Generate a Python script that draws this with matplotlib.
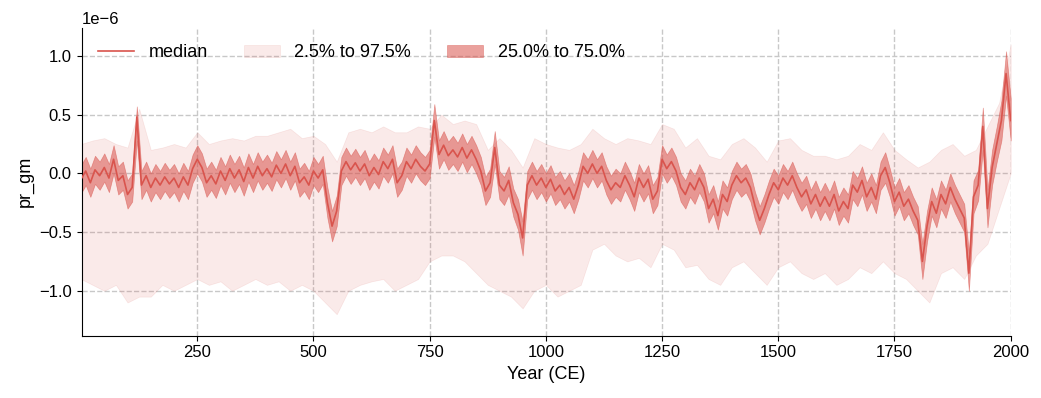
import numpy as np
import matplotlib.pyplot as plt

plt.rcParams['font.family'] = ['Liberation Sans', 'DejaVu Sans']

# Jahre (10-Jahres-Schritte) fuer Median und Quartile, Werte in 1e-6
years = np.arange(0, 2001, 10)

median = [
    -0.05, 0.02, -0.08, 0.03, -0.02, 0.05, -0.04, 0.12, -0.06, -0.02,
    -0.18, -0.12, 0.48, -0.10, -0.02, -0.12, -0.04, -0.10, -0.03, -0.09,
    -0.04, -0.12, -0.03, -0.10, 0.04, 0.12, 0.05, -0.08, -0.02, -0.09,
    0.02, -0.06, 0.04, -0.04, 0.03, -0.07, 0.05, -0.04, 0.06, -0.02,
    0.04, -0.03, 0.07, 0.00, 0.08, -0.02, 0.06, -0.08, -0.03, -0.10,
    0.02, -0.04, 0.03, -0.25, -0.45, -0.32, 0.02, 0.10, 0.03, 0.09,
    0.02, 0.08, -0.02, 0.05, -0.01, 0.10, 0.04, 0.12, -0.08, -0.02,
    0.10, 0.04, 0.12, 0.06, 0.02, 0.08, 0.45, 0.16, 0.24, 0.15,
    0.20, 0.14, 0.22, 0.13, 0.20, 0.12, 0.02, -0.15, -0.08, 0.22,
    -0.10, -0.15, -0.06, -0.25, -0.35, -0.55, -0.10, -0.02, -0.10, -0.04,
    -0.12, -0.05, -0.15, -0.10, -0.18, -0.12, -0.22, -0.10, 0.06, 0.00,
    0.08, 0.00, 0.06, -0.06, -0.14, -0.08, -0.12, -0.02, -0.10, -0.20,
    -0.04, -0.12, -0.05, -0.22, -0.15, 0.12, 0.04, 0.10, 0.02, -0.12,
    -0.18, -0.08, -0.14, -0.04, -0.12, -0.30, -0.22, -0.36, -0.18, -0.24,
    -0.10, -0.02, -0.08, -0.04, -0.12, -0.28, -0.40, -0.30, -0.18, -0.08,
    -0.14, -0.04, -0.10, -0.02, -0.12, -0.20, -0.14, -0.26, -0.18, -0.28,
    -0.20, -0.28, -0.18, -0.32, -0.24, -0.30, -0.10, -0.16, -0.06, -0.20,
    -0.12, -0.22, -0.02, 0.05, -0.08, -0.24, -0.16, -0.28, -0.22, -0.32,
    -0.40, -0.75, -0.45, -0.24, -0.34, -0.18, -0.26, -0.12, -0.22, -0.30,
    -0.38, -0.85, -0.20, -0.10, 0.40, -0.30, 0.05, 0.25, 0.45, 0.85,
    0.45,
]

q75 = [
    0.07, 0.14, 0.04, 0.15, 0.10, 0.17, 0.08, 0.24, 0.06, 0.10,
    -0.06, 0.00, 0.57, 0.02, 0.10, 0.00, 0.08, 0.02, 0.09, 0.03,
    0.08, 0.00, 0.09, 0.02, 0.16, 0.24, 0.17, 0.04, 0.10, 0.03,
    0.14, 0.06, 0.16, 0.08, 0.15, 0.05, 0.17, 0.08, 0.18, 0.10,
    0.16, 0.09, 0.19, 0.12, 0.20, 0.10, 0.18, 0.04, 0.09, 0.02,
    0.14, 0.08, 0.15, -0.12, -0.32, -0.19, 0.14, 0.22, 0.15, 0.21,
    0.14, 0.20, 0.10, 0.17, 0.11, 0.22, 0.16, 0.24, 0.04, 0.10,
    0.22, 0.16, 0.24, 0.18, 0.14, 0.20, 0.59, 0.28, 0.36, 0.27,
    0.32, 0.26, 0.34, 0.25, 0.32, 0.24, 0.14, -0.03, 0.04, 0.36,
    0.02, -0.03, 0.06, -0.13, -0.22, -0.41, 0.02, 0.10, 0.02, 0.08,
    0.00, 0.07, -0.03, 0.02, -0.06, 0.00, -0.10, 0.02, 0.18, 0.12,
    0.20, 0.12, 0.18, 0.06, -0.02, 0.04, 0.00, 0.10, 0.02, -0.08,
    0.08, 0.00, 0.07, -0.10, -0.03, 0.24, 0.16, 0.22, 0.14, 0.00,
    -0.06, 0.04, -0.02, 0.08, 0.00, -0.18, -0.10, -0.24, -0.06, -0.12,
    0.02, 0.10, 0.04, 0.08, 0.00, -0.16, -0.28, -0.18, -0.06, 0.04,
    -0.02, 0.08, 0.02, 0.10, 0.00, -0.08, -0.02, -0.14, -0.06, -0.16,
    -0.08, -0.16, -0.06, -0.20, -0.12, -0.18, 0.02, -0.04, 0.06, -0.08,
    0.00, -0.10, 0.10, 0.18, 0.04, -0.12, -0.04, -0.16, -0.10, -0.20,
    -0.28, -0.60, -0.32, -0.12, -0.22, -0.06, -0.14, 0.00, -0.10, -0.18,
    -0.26, -0.68, -0.06, 0.03, 0.56, -0.14, 0.20, 0.40, 0.62, 1.04,
    0.64,
]

q25 = [
    -0.17, -0.10, -0.20, -0.09, -0.14, -0.07, -0.16, 0.00, -0.18, -0.14,
    -0.30, -0.24, 0.28, -0.22, -0.14, -0.24, -0.16, -0.22, -0.15, -0.21,
    -0.16, -0.24, -0.15, -0.22, -0.08, 0.00, -0.07, -0.20, -0.14, -0.21,
    -0.10, -0.18, -0.08, -0.16, -0.09, -0.19, -0.07, -0.16, -0.06, -0.14,
    -0.08, -0.15, -0.05, -0.12, -0.04, -0.14, -0.06, -0.20, -0.15, -0.22,
    -0.10, -0.16, -0.09, -0.38, -0.58, -0.45, -0.10, -0.02, -0.09, -0.03,
    -0.10, -0.04, -0.14, -0.07, -0.13, -0.02, -0.08, 0.00, -0.20, -0.14,
    -0.02, -0.08, 0.00, -0.06, -0.10, -0.04, 0.31, 0.04, 0.12, 0.03,
    0.08, 0.02, 0.10, 0.01, 0.08, 0.00, -0.10, -0.27, -0.20, 0.08,
    -0.22, -0.27, -0.18, -0.37, -0.48, -0.70, -0.22, -0.14, -0.22, -0.16,
    -0.24, -0.17, -0.27, -0.22, -0.30, -0.24, -0.34, -0.22, -0.06, -0.12,
    -0.04, -0.12, -0.06, -0.18, -0.26, -0.20, -0.24, -0.14, -0.22, -0.32,
    -0.16, -0.24, -0.17, -0.34, -0.27, 0.00, -0.08, -0.02, -0.10, -0.24,
    -0.30, -0.20, -0.26, -0.16, -0.24, -0.42, -0.34, -0.48, -0.30, -0.36,
    -0.22, -0.14, -0.20, -0.16, -0.24, -0.40, -0.52, -0.42, -0.30, -0.20,
    -0.26, -0.16, -0.22, -0.14, -0.24, -0.32, -0.26, -0.38, -0.30, -0.40,
    -0.32, -0.40, -0.30, -0.44, -0.36, -0.42, -0.22, -0.28, -0.18, -0.32,
    -0.24, -0.34, -0.14, -0.08, -0.20, -0.36, -0.28, -0.40, -0.34, -0.44,
    -0.52, -0.90, -0.58, -0.36, -0.46, -0.30, -0.38, -0.24, -0.34, -0.42,
    -0.50, -1.00, -0.34, -0.23, 0.20, -0.46, -0.10, 0.10, 0.28, 0.66,
    0.28,
]

# 2.5 % und 97.5 % Grenzen (25-Jahres-Schritte)
years_outer = np.arange(0, 2001, 25)

q975 = [
    0.25, 0.28, 0.30, 0.25, 0.22, 0.55, 0.20, 0.22, 0.25, 0.22,
    0.35, 0.25, 0.28, 0.30, 0.28, 0.32, 0.32, 0.35, 0.38, 0.30,
    0.32, 0.25, 0.10, 0.35, 0.38, 0.35, 0.40, 0.35, 0.35, 0.40,
    0.38, 0.50, 0.42, 0.45, 0.42, 0.20, 0.30, 0.20, 0.05, 0.30,
    0.25, 0.22, 0.20, 0.25, 0.38, 0.30, 0.25, 0.30, 0.28, 0.25,
    0.42, 0.38, 0.22, 0.30, 0.15, 0.12, 0.25, 0.30, 0.22, 0.10,
    0.28, 0.30, 0.20, 0.15, 0.15, 0.12, 0.15, 0.25, 0.20, 0.35,
    0.20, 0.12, 0.05, 0.10, 0.20, 0.25, 0.15, 0.20, 0.40, 0.60,
    1.10,
]

q025 = [
    -0.90, -0.95, -1.00, -0.95, -1.10, -1.05, -1.05, -0.95, -1.00, -0.95,
    -0.90, -0.95, -0.92, -1.00, -0.95, -0.90, -0.95, -0.92, -1.00, -0.95,
    -1.00, -1.10, -1.20, -1.00, -0.95, -0.92, -0.90, -1.00, -0.95, -0.90,
    -0.75, -0.70, -0.70, -0.75, -0.85, -0.95, -1.00, -1.05, -1.15, -1.00,
    -0.95, -1.05, -1.00, -0.95, -0.65, -0.60, -0.70, -0.75, -0.72, -0.80,
    -0.60, -0.65, -0.80, -0.78, -0.90, -0.95, -0.80, -0.75, -0.85, -0.95,
    -0.80, -0.75, -0.85, -0.90, -0.85, -0.95, -0.90, -0.80, -0.85, -0.75,
    -0.85, -0.90, -1.00, -1.10, -0.85, -0.80, -0.90, -0.70, -0.60, -0.30,
    0.00,
]

clr = '#d9544d'
scale = 1e-6

fig = plt.figure(figsize=(10.41, 3.98), dpi=100)
ax = fig.add_axes([0.0783, 0.1565, 0.8926, 0.7731])

ax.plot(years, np.array(median) * scale, color=clr, lw=1.2, label='median', zorder=3)
ax.fill_between(years_outer, np.array(q025) * scale, np.array(q975) * scale,
                color=clr, alpha=0.12, edgecolor=clr, lw=0.5, label='2.5% to 97.5%')
ax.fill_between(years, np.array(q25) * scale, np.array(q75) * scale,
                color=clr, alpha=0.55, edgecolor=clr, lw=0.5, label='25.0% to 75.0%')

ax.set_xlim(1, 2000)
ax.set_ylim(-1.383e-6, 1.238e-6)
ax.set_xticks([250, 500, 750, 1000, 1250, 1500, 1750, 2000])
ax.set_yticks([-1e-6, -0.5e-6, 0, 0.5e-6, 1e-6])

ax.grid(True, linestyle='--', color='#c8c8c8', lw=1)
ax.set_axisbelow(True)
for s in ['top', 'right']:
    ax.spines[s].set_visible(False)
ax.tick_params(labelsize=12)
ax.yaxis.get_offset_text().set_fontsize(12)

ax.set_xlabel('Year (CE)', fontsize=13)
ax.set_ylabel('pr_gm', fontsize=13)
ax.legend(loc='upper left', ncol=3, frameon=False, fontsize=13)

fig.savefig('out.png', dpi=100)
